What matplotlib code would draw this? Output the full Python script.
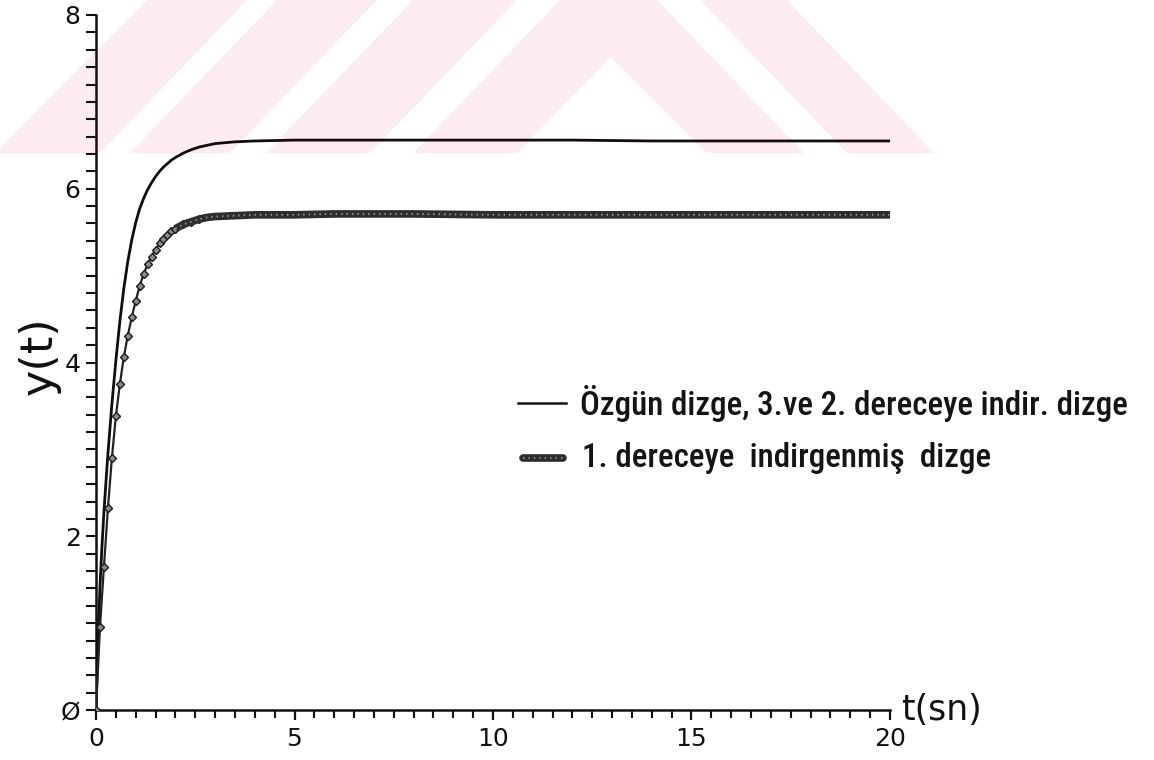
import numpy as np
import matplotlib
matplotlib.use("Agg")
import matplotlib.pyplot as plt
from matplotlib.lines import Line2D
from matplotlib.patches import Polygon
from matplotlib import font_manager

# ---------------- data ----------------
t_orig = [0.0, 0.05, 0.1, 0.15, 0.2, 0.25, 0.3, 0.4, 0.5, 0.6, 0.7, 0.8, 0.9,
          1.0, 1.1, 1.2, 1.3, 1.4, 1.5, 1.6, 1.7, 1.8, 1.9, 2.0, 2.2, 2.4, 2.6,
          2.8, 3.0, 3.5, 4.0, 5.0, 6.0, 8.0, 10.0, 12.0, 14.0, 16.0, 18.0, 20.0]
y_orig = [0.0, 0.80, 1.42, 1.88, 2.28, 2.62, 2.95, 3.52, 4.02, 4.47, 4.85, 5.16, 5.41,
          5.61, 5.77, 5.89, 5.99, 6.07, 6.14, 6.20, 6.25, 6.29, 6.33, 6.36, 6.41, 6.45, 6.48,
          6.50, 6.52, 6.54, 6.55, 6.56, 6.56, 6.56, 6.56, 6.56, 6.55, 6.55, 6.55, 6.55]

t_red = [0.0, 0.1, 0.2, 0.3, 0.4, 0.5, 0.6, 0.7, 0.8, 0.9, 1.0, 1.1, 1.2, 1.3,
         1.4, 1.5, 1.6, 1.7, 1.8, 1.9, 2.0, 2.2, 2.4, 2.6, 2.8, 3.0, 3.5, 4.0,
         5.0, 6.0, 8.0, 10.0, 12.0, 14.0, 16.0, 18.0, 20.0]
y_red = [0.0, 0.95, 1.65, 2.32, 2.90, 3.38, 3.75, 4.06, 4.31, 4.52, 4.71, 4.88, 5.02, 5.13,
         5.22, 5.30, 5.37, 5.42, 5.47, 5.51, 5.54, 5.59, 5.62, 5.65, 5.67, 5.68, 5.69, 5.70,
         5.70, 5.71, 5.71, 5.70, 5.70, 5.70, 5.70, 5.70, 5.70]

x_major = [0, 5, 10, 15, 20]
x_major_labels = ["0", "5", "10", "15", "20"]
y_major = [0, 2, 4, 6, 8]
y_major_labels = ["Ø", "2", "4", "6", "8"]

label_orig = "Özgün dizge, 3.ve 2. dereceye indir. dizge"
label_red = "1. dereceye  indirgenmiş  dizge"
xlabel = "t(sn)"
ylabel = "y(t)"

# ---------------- style ----------------
num_font = "DejaVu Sans"
plt.rcParams["font.family"] = [num_font]
plt.rcParams["xtick.labelsize"] = 18
plt.rcParams["ytick.labelsize"] = 18

W, H = 1154, 760
fig = plt.figure(figsize=(W / 100, H / 100), dpi=100)
fig.patch.set_facecolor("white")


def fp(x, y):
    return (x / W, 1 - y / H)


# watermark (light pink stripes behind the chart)
pink = "#fdecef"
wm_polys = [
    [(147, 0), (247, 0), (100, 153), (-5, 153)],
    [(277, 0), (377, 0), (230, 153), (130, 153)],
    [(413, 0), (517, 0), (370, 153), (266, 153)],
    [(560, 0), (657, 0), (804, 153), (707, 153), (611, 57), (517, 153), (413, 153)],
    [(700, 0), (787, 0), (934, 153), (847, 153)],
]
for poly in wm_polys:
    fig.add_artist(Polygon([fp(*p) for p in poly], closed=True, transform=fig.transFigure,
                           facecolor=pink, edgecolor="none", zorder=0))

ax = fig.add_axes([96 / W, 1 - 710 / H, 794 / W, 695 / H])
ax.set_facecolor("none")
ax.set_zorder(1)

ink = "#140c0c"
# original / 3rd / 2nd order
ax.plot(t_orig, y_orig, color=ink, lw=2.0, solid_capstyle="butt", zorder=3)

# first order reduced system: beaded line
t_arr = np.array(t_red)
y_arr = np.array(y_red)
early = t_arr <= 2.6
late = t_arr >= 2.0
ax.plot(t_arr[early], y_arr[early], color="#222222", lw=1.6, zorder=3,
        marker="D", ms=4.2, mfc="#8a8a8a", mec="#1a1a1a", mew=1.0)
ax.plot(t_arr[late], y_arr[late], color="#2e2e2e", lw=5.5, solid_capstyle="butt", zorder=3)
ax.plot(t_arr[late], y_arr[late], color="#9a9a9a", lw=1.3, dashes=(0.8, 2.2), zorder=4)

ax.set_xlim(0, 20)
ax.set_ylim(0, 8)
for s in ["top", "right"]:
    ax.spines[s].set_visible(False)
for s in ["left", "bottom"]:
    ax.spines[s].set_linewidth(1.8)
    ax.spines[s].set_color("#111111")

ax.set_xticks(x_major)
ax.set_xticklabels(x_major_labels)
ax.set_xticks(np.arange(0, 20.01, 0.5), minor=True)
ax.set_yticks(y_major)
ax.set_yticklabels(y_major_labels)
ax.set_yticks(np.arange(0, 8.01, 0.2), minor=True)

ax.tick_params(axis="x", which="major", direction="out", length=7.5, width=1.6,
               pad=5, labelsize=18, colors="#111111")
ax.tick_params(axis="x", which="minor", direction="out", length=5.5, width=1.5, colors="#111111")
ax.tick_params(axis="y", which="both", direction="out", length=7, width=1.5,
               pad=4, labelsize=18, colors="#111111")

ax.set_xlabel(xlabel, fontsize=25, color="#111111", ha="left", va="center")
ax.xaxis.set_label_coords(1.014, 0.0)
ax.set_ylabel(ylabel, fontsize=32, color="#111111", va="center", ha="center")
ax.yaxis.set_label_coords(-0.072, 0.51)

# ---------------- legend (manual) ----------------
names = {f.name for f in font_manager.fontManager.ttflist}
leg_font = "Liberation Sans"
for cand in ["Liberation Sans Narrow", "Roboto Condensed", "Open Sans Condensed",
             "DejaVu Sans Condensed"]:
    if cand in names:
        leg_font = cand
        break

fig.add_artist(Line2D([fp(518, 403)[0], fp(566, 403)[0]], [fp(518, 403)[1]] * 2,
                      transform=fig.transFigure, color="#141414", lw=1.8, zorder=5))
fig.add_artist(Line2D([fp(523, 458)[0], fp(563, 458)[0]], [fp(523, 458)[1]] * 2,
                      transform=fig.transFigure, color="#2e2e2e", lw=5.5,
                      solid_capstyle="round", zorder=5))
fig.add_artist(Line2D([fp(523, 458)[0], fp(563, 458)[0]], [fp(523, 458)[1]] * 2,
                      transform=fig.transFigure, color="#9a9a9a", lw=1.3, dashes=(0.8, 2.2),
                      zorder=6))

t1 = fig.text(*fp(580, 415), label_orig, fontsize=20, family=leg_font, color="#141414",
              ha="left", va="baseline", weight="medium")
t2 = fig.text(*fp(582, 467), label_red, fontsize=20, family=leg_font, color="#141414",
              ha="left", va="baseline", weight="medium")
fig.canvas.draw()
w1 = t1.get_window_extent().width
fs = 20 * 550.0 / w1
t1.set_fontsize(fs)
t2.set_fontsize(fs)

fig.savefig("out.png", dpi=100, facecolor="white")
